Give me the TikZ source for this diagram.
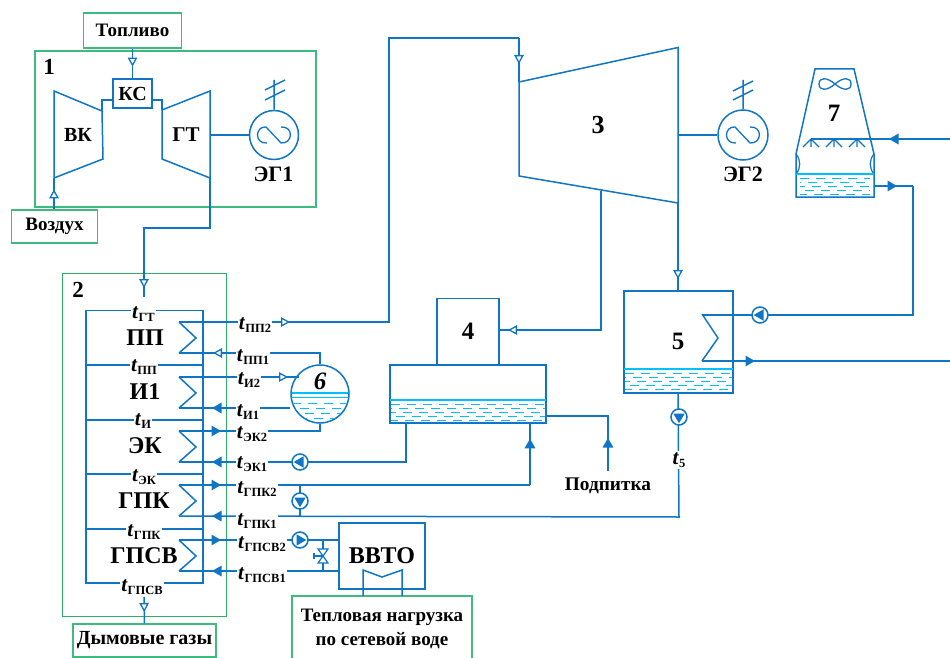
\documentclass[tikz,border=0pt]{standalone}
\usepackage{fontspec}
\setmainfont{Liberation Serif}
\usetikzlibrary{arrows.meta,decorations.markings,calc}
\definecolor{pipeblue}{HTML}{0F75C4}
\definecolor{frameA}{HTML}{3DBB7C}
\definecolor{frameB}{HTML}{2DB066}
\definecolor{water}{HTML}{00BFFF}
\newcommand\fs[1]{\fontsize{#1}{#1}\selectfont}
\newcommand\tsub[1]{\textit{t}\raisebox{-3.5pt}{\fs{12.5}#1}}
\tikzset{
  pipe/.style={draw=pipeblue,line width=1.5pt,line join=miter},
  frame/.style={draw=frameA,line width=1.2pt,inner sep=0pt,font=\bfseries\fs{19}},
  unit/.style={pipe,inner sep=0pt},
  txt/.style={inner sep=0pt,font=\bfseries\fs{24}},
  tlabel/.style={fill=white,anchor=base,inner xsep=1pt,inner ysep=1pt,font=\bfseries\fs{21}},
  omark/.style={postaction={decorate},decoration={markings,mark=at position #1 with {\arrow{Triangle[open,fill=white,length=9pt,width=9.5pt,line width=1.3pt]}}}},
  fmark/.style={postaction={decorate},decoration={markings,mark=at position #1 with {\arrow{Triangle[length=9.5pt,width=10.5pt]}}}},
  ripple/.style={draw=water,line width=1pt,dash pattern=on 9pt off 7pt},
  level/.style={draw=water,line width=1.4pt},
  pumpsym/.pic={\draw[pipe,fill=white] (0,0) circle (8); \fill[pipeblue] (6.3,0)--(-3.5,5.7)--(-3.5,-5.7)--cycle;},
  genwave/.pic={\draw[pipe,line width=1.3pt] (-7,8) .. controls (-20,9) and (-19,-9) .. (-8,-8) -- (7,8) .. controls (19,9) and (20,-9) .. (7,-8);},
  nozzle/.pic={\draw[pipe,line width=1.2pt] (0,0)--(0,8) (0,0)--(-8,8) (0,0)--(8,8);},
  coil/.pic={\draw[pipe] (0,0)--(17,16)--(0,31);},
}
\begin{document}
\begin{tikzpicture}[x=1pt,y=-1pt]
\useasboundingbox (0,0) rectangle (950,658);
% frames
\node[frame,minimum width=98pt,minimum height=35pt] (fuel) at (132.5,30.5) {Топливо};
\node[frame,minimum width=86pt,minimum height=33pt] (air) at (54.5,226.5) {Воздух};
\node[frame,minimum width=281pt,minimum height=156pt] (group1) at (175.5,129) {};
\node[frame,draw=frameB,line width=1pt,minimum width=163.5pt,minimum height=342.5pt] (group2) at (144.25,444.75) {};
\node[frame,minimum width=143pt,minimum height=33pt,font=\bfseries\fs{20}] (smoke) at (144.5,640.5) {Дымовые газы};
\node[frame,minimum width=180pt,minimum height=70pt] (heat) at (382,631) {};
\node[txt,font=\bfseries\fs{19}] (heat1) at (382,617) {Тепловая нагрузка};
\node[txt,font=\bfseries\fs{19}] (heat2) at (382,641) {по сетевой воде};
\node[txt,font=\bfseries\fs{23}] (n1) at (49,67) {1};
\node[txt,font=\bfseries\fs{23}] (n2) at (78,290) {2};
% gas turbine
\node[unit,minimum width=39pt,minimum height=29pt,font=\bfseries\fs{20}] (ks) at (132.5,93.5) {КС};
\coordinate (vkT) at (102,111); \coordinate (gtT) at (162,110);
\coordinate (vkIn) at (54,178); \coordinate (gtOut) at (210,178);
\coordinate (vkJ) at (102,100); \coordinate (gtJ) at (162,100);
\draw[pipe] (54,91)--(vkT)--(103,159)--(vkIn)--cycle;
\draw[pipe] (210,91)--(gtT)--(162,159)--(gtOut)--cycle;
\draw[pipe] (vkT)--(vkJ)--(vkJ-|ks.west);
\draw[pipe] (gtT)--(gtJ)--(gtJ-|ks.east);
\node[txt,font=\bfseries\fs{20}] (vk) at (78,135) {ВК};
\node[txt,font=\bfseries\fs{21}] (gt) at (186,135) {ГТ};
\node[unit,circle,minimum size=49pt] (eg1) at (274,135) {};
\pic at (eg1) {genwave};
\draw[pipe] (eg1.west-|gtOut)--(eg1.west);
\draw[pipe] (eg1.north)--(274,80) (265,90)--(285,80) (265,100)--(285,90);
\node[txt,font=\bfseries\fs{22}] (eg1t) at (273.5,174) {ЭГ1};
\draw[pipe,omark=18pt] (fuel.south-|ks)--(ks.north);
\draw[pipe,omark=20pt] (vkIn|-air.north)--(vkIn);
\coordinate (hrsgIn) at (144,297);
\draw[pipe,omark={-9pt}] (gtOut)--(210,228)--(144,228)--(hrsgIn);
% HRSG duct
\coordinate (dTL) at (86,310.5);
\coordinate (dBR) at (203,583);
\draw[pipe] (dTL) rectangle (dBR);
\foreach \yy in {365,420,474,529} {\draw[pipe] (86,\yy)--(203,\yy);}
\foreach \yy in {322,377,431,485,540} {\pic at (179,\yy) {coil};}
\coordinate (pp2) at (179,322); \coordinate (pp1) at (179,353);
\coordinate (i2) at (179,377); \coordinate (i1) at (179,408);
\coordinate (ek2) at (179,431); \coordinate (ek1) at (179,462);
\coordinate (gk2) at (179,485); \coordinate (gk1) at (179,516);
\coordinate (gs2) at (179,540); \coordinate (gs1) at (179,571);
% steam turbine
\coordinate (tIn) at (519,82); \coordinate (tOut) at (678,203); \coordinate (tTop) at (519,38);
\draw[pipe] (tIn)--(678,47.5)--(tOut)--(519,176)--cycle;
\node[txt,font=\bfseries\fs{26}] (n3) at (598,125) {3};
\node[unit,circle,minimum size=50pt] (eg2) at (743,135) {};
\pic at (eg2) {genwave};
\draw[pipe] (eg2.west-|tOut)--(eg2.west);
\draw[pipe] (eg2.north)--(743,80) (733,91)--(753,81) (733,100)--(753,90);
\node[txt,font=\bfseries\fs{22}] (eg2t) at (743,174) {ЭГ2};
\draw[pipe,omark=111pt] (pp2)--(389,322)--(389,38)--(tTop);
\draw[pipe,omark=26pt] (tTop)--(tIn);
% drum
\node[unit,circle,minimum size=58pt] (drum) at (320,394) {};
\begin{scope}
\clip (320,394) circle (28.5);
\draw[level] (285,393)--(355,393);
\draw[level,line width=1pt] (285,397.5)--(355,397.5);
\foreach \yy/\ph in {403.5/0,408.5/8,413.5/3,418.5/10} {\draw[ripple,dash phase=\ph pt] (292,\yy)--(350,\yy);}
\end{scope}
\node[txt,font=\bfseries\itshape\fs{25}] (n6) at (320,381) {6};
\draw[pipe,omark={-34pt}] (drum.north)--(320,353)--(pp1);
\draw[pipe,omark=109pt] (i2)--(i2-|drum.north west);
\draw[pipe,fmark={-33pt}] (drum.west|-i1)--(i1);
\draw[pipe,fmark=42pt] (ek2)--(320,431)--(drum.south);
% deaerator
\node[unit,minimum width=62pt,minimum height=66pt] (b4) at (468,331.7) {};
\node[txt,font=\bfseries\fs{25}] (n4) at (468,331) {4};
\node[unit,minimum width=156pt,minimum height=58pt] (da) at (468,394) {};
\draw[level] (390,400)--(546,400);
\foreach \yy/\ph in {404.5/0,408.5/8,412.5/4,416.5/11,420.5/2} {\draw[ripple,dash phase=\ph pt] (391,\yy)--(545,\yy);}
\coordinate (extr) at (601,191);
\coordinate (mkIn) at (608,471);
\draw[pipe,omark=232pt] (extr)--(601,330)--(b4.east|-0,330);
\draw[pipe,fmark=33pt] (mkIn)--(608,416)--(da.east|-0,416);
\draw[pipe,fmark={-33pt}] (406,423)--(406,462)--(ek1);
\coordinate (gkJ) at (530,485);
\draw[pipe,fmark=42pt] (gk2)--(gkJ);
\draw[pipe,fmark=-15pt] (gkJ)--(gkJ|-da.south);
\node[txt,font=\bfseries\fs{19.3}] (mk) at (608,486) {Подпитка};
% condenser
\node[unit,minimum width=109pt,minimum height=102pt] (b5) at (678.5,342) {};
\node[txt,font=\bfseries\fs{25}] (n5) at (678,341) {5};
\draw[level] (624,369)--(733,369);
\foreach \yy/\ph in {373.5/0,377.5/8,381.5/4,385.5/11,389.5/2} {\draw[ripple,dash phase=\ph pt] (625,\yy)--(732,\yy);}
\draw[pipe] (702,314)--(718,338)--(702,361);
\draw[pipe,omark=76pt] (tOut)--(tOut|-b5.north);
\coordinate (c5a) at (702,315); \coordinate (c5b) at (702,361);
\coordinate (out5) at (950,361);
\draw[pipe,fmark=53pt] (c5b)--(out5);
\draw[pipe,fmark={-33pt}] (b5.south-|tOut)--(679,517)--(gk1);
\draw[pipe] (gk2-|300,0)--(gk1-|300,0);
% tower
\draw[pipe] (796,154)--(815,69)--(854,69)--(874,154)--(874,197)--(796,197)--cycle;
\draw[pipe,line width=1.2pt] (796,154) .. controls (801,160) and (801,168) .. (796,174);
\draw[pipe,line width=1.2pt] (874,154) .. controls (869,160) and (869,168) .. (874,174);
\draw[level] (796,174)--(874,174);
\foreach \yy/\ph in {178.5/0,182.5/8,186.5/4,190.5/11,194.5/2} {\draw[ripple,dash phase=\ph pt] (800,\yy)--(870,\yy);}
\draw[pipe,line width=1.3pt] (835,84) .. controls (827,77) and (819,77) .. (819,84) .. controls (819,91) and (827,91) .. (835,84) .. controls (843,77) and (851,77) .. (851,84) .. controls (851,91) and (843,91) .. (835,84);
\node[txt,font=\bfseries\fs{25}] (n7) at (834,113) {7};
\coordinate (sprayIn) at (950,139); \coordinate (sprayEnd) at (811,139);
\draw[pipe,fmark=61pt] (sprayIn)--(sprayEnd);
\foreach \xx in {811,834,857} {\pic at (\xx,139) {nozzle};}
\coordinate (twOut) at (874,186); \coordinate (cwR) at (913,186);
\draw[pipe,fmark=23pt] (twOut)--(cwR);
\draw[pipe] (cwR)--(913,315)--(c5a);
% VVTO
\node[unit,minimum width=86pt,minimum height=66pt] (vvto) at (382,556) {};
\node[txt,font=\bfseries\fs{24}] (vvtot) at (382,556) {ВВТО};
\draw[pipe] (363,596)--(363,570)--(382,577)--(402,570)--(402,596);
\draw[pipe,fmark=42pt] (gs2)--(gs2-|vvto.west);
\draw[pipe,fmark={-33pt}] (gs1-|vvto.west)--(gs1);
\draw[pipe] (323,540)--(323,571);
\draw[pipe,fill=white,line width=1.2pt] (318,549)--(328,549)--(318,563)--(328,563)--cycle;
\draw[pipe,line width=1.2pt] (314,556)--(323,556) (314,553)--(314,559);
% smoke
\coordinate (smokeOut) at (144,597);
\draw[pipe,omark=15pt] (smokeOut)--(smoke.north);
% pumps
\pic[rotate=180] at (300,462) {pumpsym};
\pic[rotate=-90] at (300,501) {pumpsym};
\pic at (300,540) {pumpsym};
\pic[rotate=-90] at (679,417) {pumpsym};
\pic[rotate=180] at (760,315) {pumpsym};
% temperature labels
\node[tlabel] (tGT) at (143.5,318) {\tsub{ГТ}};
\node[tlabel] (tPP) at (144,371) {\tsub{ПП}};
\node[tlabel] (tI) at (143,425) {\tsub{И}};
\node[tlabel] (tEK) at (144,481) {\tsub{ЭК}};
\node[tlabel] (tGPK) at (144,536) {\tsub{ГПК}};
\node[tlabel] (tGPSV) at (142,591) {\tsub{ГПСВ}};
\node[tlabel] (tPP2) at (255,329) {\tsub{ПП2}};
\node[tlabel] (tPP1) at (253,361) {\tsub{ПП1}};
\node[tlabel] (tI2) at (249,384) {\tsub{И2}};
\node[tlabel] (tI1) at (248,416) {\tsub{И1}};
\node[tlabel] (tEK2) at (252,438) {\tsub{ЭК2}};
\node[tlabel] (tEK1) at (252,468) {\tsub{ЭК1}};
\node[tlabel] (tGK2) at (257,493) {\tsub{ГПК2}};
\node[tlabel] (tGK1) at (257,525) {\tsub{ГПК1}};
\node[tlabel] (tGS2) at (262,548) {\tsub{ГПСВ2}};
\node[tlabel] (tGS1) at (262,579) {\tsub{ГПСВ1}};
\node[tlabel] (t5) at (679,464) {\tsub{5}};
% section names
\node[txt] (pp) at (145,338) {ПП};
\node[txt] (i1t) at (145,392) {И1};
\node[txt] (ekt) at (145,446) {ЭК};
\node[txt] (gpk) at (144,501) {ГПК};
\node[txt] (gpsv) at (144,556) {ГПСВ};
\end{tikzpicture}
\end{document}
